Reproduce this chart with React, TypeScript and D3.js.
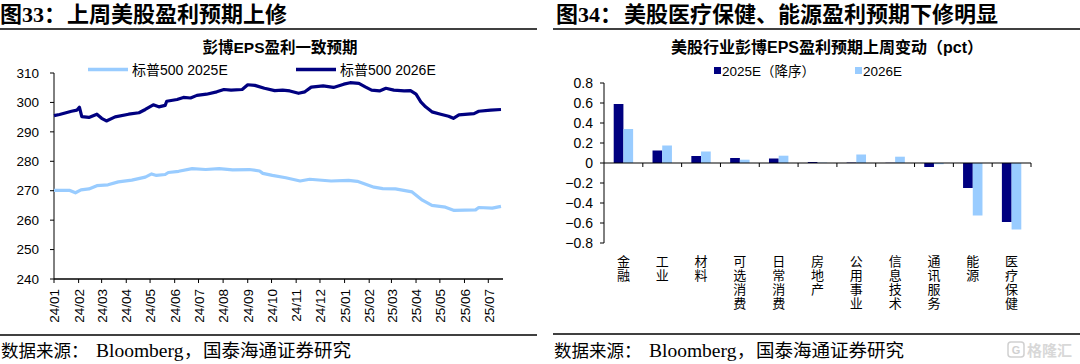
import React from 'react';
import * as d3 from 'd3';

// ---------- Data: left chart (S&P 500 consensus EPS) ----------
const dates2026 = ['2024-01-01','2024-01-08','2024-01-15','2024-01-23','2024-01-30','2024-02-02','2024-02-05','2024-02-14','2024-02-24','2024-03-01','2024-03-07','2024-03-18','2024-04-04','2024-04-17','2024-04-25','2024-05-05','2024-05-12','2024-05-20','2024-05-22','2024-06-04','2024-06-12','2024-06-21','2024-06-29','2024-07-11','2024-07-24','2024-08-02','2024-08-11','2024-08-25','2024-09-01','2024-09-10','2024-09-22','2024-10-05','2024-10-15','2024-10-24','2024-11-04','2024-11-12','2024-11-20','2024-12-05','2024-12-18','2024-12-31','2025-01-08','2025-01-19','2025-01-27','2025-02-04','2025-02-14','2025-02-22','2025-03-04','2025-03-17','2025-03-25','2025-04-01','2025-04-07','2025-04-13','2025-04-21','2025-05-02','2025-05-12','2025-05-18','2025-05-25','2025-06-13','2025-06-19','2025-07-04','2025-07-17'];
const eps2026 = [295.5,295.9,296.4,297.0,297.4,298.4,295.2,294.9,296.0,294.6,293.7,295.1,296.0,296.5,297.6,299.2,298.5,299.0,300.4,301.0,301.7,301.5,302.4,302.8,303.6,304.4,304.2,304.4,306.0,305.8,304.8,304.0,304.2,303.9,303.1,303.6,305.2,305.6,305.1,306.2,306.7,306.5,305.3,304.2,303.9,304.8,304.2,303.9,304.0,302.8,300.2,298.5,296.8,296.0,295.3,294.6,295.8,296.2,297.0,297.4,297.6];

const dates2025 = ['2024-01-01','2024-01-21','2024-01-28','2024-02-04','2024-02-14','2024-02-24','2024-03-09','2024-03-22','2024-04-08','2024-04-25','2024-05-03','2024-05-09','2024-05-20','2024-05-24','2024-06-06','2024-06-23','2024-07-10','2024-07-27','2024-08-13','2024-09-03','2024-09-16','2024-09-20','2024-10-02','2024-10-19','2024-11-06','2024-11-18','2024-12-15','2025-01-06','2025-01-17','2025-02-07','2025-02-18','2025-03-06','2025-03-27','2025-04-09','2025-04-21','2025-05-08','2025-05-19','2025-06-15','2025-06-19','2025-07-06','2025-07-17'];
const eps2025 = [270.1,270.1,269.3,270.3,270.6,271.7,272.0,273.0,273.6,274.6,275.7,275.2,275.5,276.2,276.6,277.5,277.2,277.5,277.1,277.2,276.7,275.9,275.2,274.4,273.3,273.9,273.3,273.5,273.2,271.2,270.7,270.6,269.6,266.8,265.0,264.4,263.3,263.5,264.3,264.1,264.7];

const leftYTicks = [240, 250, 260, 270, 280, 290, 300, 310];
const leftSeriesNames = ['标普500 2025E', '标普500 2026E'];

// ---------- Data: right chart (sector EPS revisions, pct) ----------
const sectors = ['金融','工业','材料','可选消费','日常消费','房地产','公用事业','信息技术','通讯服务','能源','医疗保健'];
const rev2025 = [0.59, 0.125, 0.07, 0.05, 0.045, 0.01, 0.004, 0.002, -0.04, -0.25, -0.59];
const rev2026 = [0.34, 0.175, 0.115, 0.033, 0.073, 0.004, 0.085, 0.063, -0.012, -0.525, -0.665];
const rightYTicks = [-0.8, -0.6, -0.4, -0.2, 0, 0.2, 0.4, 0.6, 0.8];
const rightSeriesNames = ['2025E（降序）', '2026E'];

const DARK = '#000080';
const LIGHT = '#99CCFF';
const SANS = '"Liberation Sans", Arial, "Noto Sans CJK SC", sans-serif';
const MIX_SERIF = '"Liberation Serif", "Noto Sans CJK SC", serif';

function Source({ x }: { x: number }) {
  return (
    <g>
      <text x={x} y={357} fontFamily={MIX_SERIF} fontSize={17.5} fill="#000">数据来源：</text>
      <text x={x + 95} y={357} fontFamily={MIX_SERIF} fontSize={19.5} fill="#000">Bloomberg</text>
      <text x={x + 183} y={357} fontFamily={MIX_SERIF} fontSize={17.5} fill="#000">，</text>
      <text x={x + 202} y={357} fontFamily={MIX_SERIF} fontSize={18.5} fill="#000">国泰海通证券研究</text>
    </g>
  );
}

export default function App() {
  const parse = d3.timeParse('%Y-%m-%d');
  const s26 = dates2026.map((d, i) => ({ date: parse(d) as Date, v: eps2026[i] }));
  const s25 = dates2025.map((d, i) => ({ date: parse(d) as Date, v: eps2025[i] }));

  // Left scales
  const lx = d3.scaleTime()
    .domain([parse('2024-01-01') as Date, parse('2025-07-17') as Date])
    .range([54, 501]);
  const ly = d3.scaleLinear().domain([240, 310]).range([279, 73]);
  const line = d3.line<{ date: Date; v: number }>()
    .x(d => lx(d.date))
    .y(d => ly(d.v));
  const monthTicks = d3.timeMonth.range(parse('2024-01-01') as Date, parse('2025-07-18') as Date);
  const fmt = d3.timeFormat('%y/%m');

  // Right scales
  const rx = d3.scaleBand<string>().domain(sectors).range([604, 1031]).padding(0);
  const bw = rx.bandwidth();
  const rx1 = d3.scaleBand<string>().domain(['a', 'b']).range([bw * 0.25, bw * 0.75]).padding(0);
  const ry = d3.scaleLinear().domain([-0.8, 0.8]).range([243, 83]);

  return (
    <svg width={1080} height={364} style={{ position: 'absolute', left: 0, top: 0, background: '#fff' }}>
      <rect x={0} y={0} width={1080} height={364} fill="#fff" />

      {/* Headers */}
      <text y={22} fontFamily={MIX_SERIF} fontWeight="bold" fontSize={22} fill="#000">
        <tspan x={0}>图33：</tspan>
        <tspan x={67}>上周美股盈利预期上修</tspan>
      </text>
      <line x1={0} x2={537} y1={29} y2={29} stroke="#000" strokeWidth={1.6} />
      <text y={22} fontFamily={MIX_SERIF} fontWeight="bold" fontSize={22} fill="#000">
        <tspan x={556}>图34：</tspan>
        <tspan x={624}>美股医疗保健、能源盈利预期下修明显</tspan>
      </text>
      <line x1={553} x2={1080} y1={29} y2={29} stroke="#000" strokeWidth={1.6} />

      {/* ---------- Left chart ---------- */}
      <text x={280} y={53} textAnchor="middle" fontFamily={SANS} fontWeight="bold" fontSize={15.5} fill="#000">彭博EPS盈利一致预期</text>
      {/* legend */}
      <line x1={88} x2={128} y1={69.5} y2={69.5} stroke={LIGHT} strokeWidth={3.5} />
      <text x={132} y={74.5} fontFamily={SANS} fontSize={14} fill="#000">{leftSeriesNames[0]}</text>
      <line x1={296} x2={336} y1={69.5} y2={69.5} stroke={DARK} strokeWidth={3.5} />
      <text x={340} y={74.5} fontFamily={SANS} fontSize={14} fill="#000">{leftSeriesNames[1]}</text>

      {/* y axis */}
      <line x1={54} x2={54} y1={ly(310)} y2={ly(240)} stroke="#000" strokeWidth={1} />
      {leftYTicks.map(t => (
        <g key={t}>
          <line x1={50} x2={54} y1={ly(t)} y2={ly(t)} stroke="#000" />
          <text x={39} y={ly(t)} dy="0.35em" textAnchor="end" fontFamily={SANS} fontSize={13.5} fill="#000">{t}</text>
        </g>
      ))}
      {/* x axis */}
      <line x1={54} x2={503} y1={ly(240)} y2={ly(240)} stroke="#000" strokeWidth={1.5} />
      {monthTicks.map(m => (
        <g key={m.toISOString()}>
          <line x1={lx(m)} x2={lx(m)} y1={ly(240)} y2={ly(240) + 4} stroke="#000" />
          <text transform={`translate(${lx(m) + 0.5},${ly(240) + 10}) rotate(-90)`} textAnchor="end" dy="0.35em"
            fontFamily={SANS} fontSize={13.5} fill="#000">{fmt(m)}</text>
        </g>
      ))}
      {/* lines */}
      <path d={line(s25) || ''} fill="none" stroke={LIGHT} strokeWidth={3.2} strokeLinejoin="round" />
      <path d={line(s26) || ''} fill="none" stroke={DARK} strokeWidth={3.2} strokeLinejoin="round" />

      {/* left source */}
      <line x1={0} x2={537} y1={335} y2={335} stroke="#000" strokeWidth={1.5} />
      <Source x={1} />

      {/* ---------- Right chart ---------- */}
      <text x={827} y={53} textAnchor="middle" fontFamily={SANS} fontWeight="bold" fontSize={16} fill="#000">美股行业彭博EPS盈利预期上周变动（pct）</text>
      {/* legend */}
      <rect x={714} y={67} width={7} height={7} fill={DARK} />
      <text x={722} y={75.5} fontFamily={SANS} fontSize={13.5} fill="#000">{rightSeriesNames[0]}</text>
      <rect x={855} y={67} width={7} height={7} fill={LIGHT} />
      <text x={863} y={75.5} fontFamily={SANS} fontSize={13.5} fill="#000">{rightSeriesNames[1]}</text>

      {/* bars */}
      {sectors.map((s, i) => {
        const x0 = rx(s) as number;
        const vals = [rev2025[i], rev2026[i]];
        return (
          <g key={s}>
            {vals.map((v, j) => (
              <rect key={j}
                x={x0 + (rx1(j === 0 ? 'a' : 'b') as number)}
                y={Math.min(ry(v), ry(0))}
                width={rx1.bandwidth()}
                height={Math.abs(ry(v) - ry(0))}
                fill={j === 0 ? DARK : LIGHT} />
            ))}
          </g>
        );
      })}

      {/* y axis */}
      <line x1={604} x2={604} y1={ry(0.8)} y2={ry(-0.8)} stroke="#000" strokeWidth={1} />
      {rightYTicks.map(t => (
        <g key={t}>
          <line x1={600} x2={604} y1={ry(t)} y2={ry(t)} stroke="#000" />
          <text x={593} y={ry(t)} dy="0.35em" textAnchor="end" fontFamily={SANS} fontSize={14} fill="#000">{t === 0 ? '0' : d3.format('.1f')(t)}</text>
        </g>
      ))}
      {/* x axis at zero */}
      <line x1={604} x2={1031} y1={ry(0)} y2={ry(0)} stroke="#000" strokeWidth={1.2} />
      {sectors.map(s => {
        const xe = (rx(s) as number) + bw;
        return <line key={s} x1={xe} x2={xe} y1={ry(0)} y2={ry(0) + 4} stroke="#000" />;
      })}
      {/* category labels (vertical) */}
      {sectors.map(s => {
        const cx = (rx(s) as number) + bw / 2;
        return (
          <g key={s}>
            {Array.from(s).map((ch, k) => (
              <text key={k} x={cx} y={266 + k * 14} textAnchor="middle" fontFamily={MIX_SERIF} fontSize={13} fill="#000">{ch}</text>
            ))}
          </g>
        );
      })}

      {/* right source */}
      <line x1={553} x2={1080} y1={334} y2={334} stroke="#000" strokeWidth={1.5} />
      <Source x={554} />

      {/* watermark */}
      <g opacity={0.45}>
        <rect x={1008} y={342} width={16} height={15} rx={3} fill="none" stroke="#999" strokeWidth={1.5} />
        <text x={1016} y={354} textAnchor="middle" fontFamily={SANS} fontWeight="bold" fontSize={11} fill="#999">G</text>
        <text x={1027} y={356} fontFamily={SANS} fontWeight="bold" fontSize={15} fill="#aaa">格隆汇</text>
      </g>
    </svg>
  );
}
